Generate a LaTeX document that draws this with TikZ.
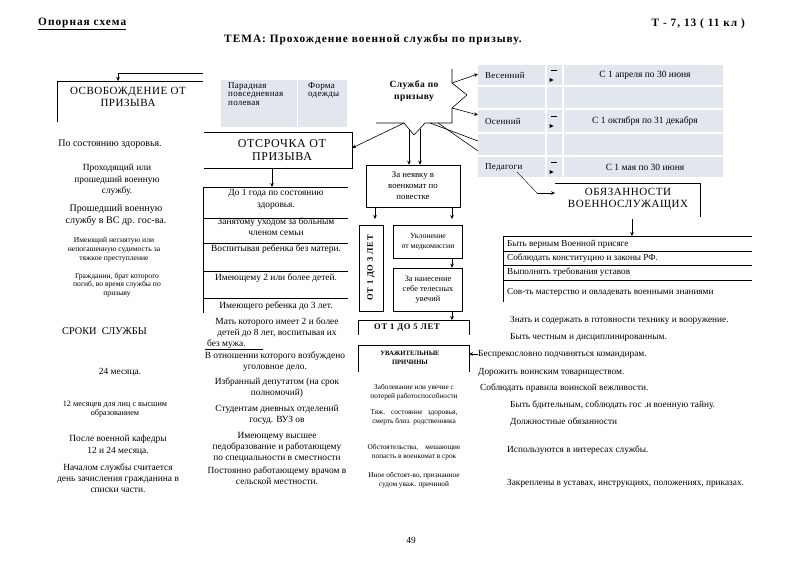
\documentclass[tikz,border=0pt]{standalone}
\usepackage{fontspec}
\setmainfont{Liberation Serif}
\newfontfamily\lsA[LetterSpace=5]{Liberation Serif}
\newfontfamily\lsB[LetterSpace=9]{Liberation Serif}
\newfontfamily\lsC[LetterSpace=3]{Liberation Serif}
\usetikzlibrary{arrows.meta}
\definecolor{tbl}{RGB}{225,230,239}
\tikzset{
  ln/.style={line width=0.6pt},
  arr/.style={-{Stealth[length=4pt,width=3.6pt]}, line width=0.6pt},
  thinl/.style={line width=0.4pt},
  hd/.style={font=\lsB\fontsize{11.3}{12}\selectfont\bfseries, inner sep=0},
  capt/.style={font=\lsA\fontsize{11}{12.5}\selectfont, align=center, inner sep=0},
  txt/.style={font=\fontsize{9.4}{11.3}\selectfont, align=center, inner sep=0},
  sm/.style={font=\fontsize{7.3}{9}\selectfont, align=center, inner sep=0},
  lt/.style={font=\fontsize{9.3}{11}\selectfont, anchor=west, inner sep=0},
  tb/.style={font=\lsC\fontsize{9}{8.7}\selectfont, anchor=west, align=left, inner sep=0},
  bx/.style={draw, line width=0.6pt, inner sep=0},
  bcap/.style={font=\lsB\fontsize{8.5}{9.5}\selectfont\bfseries, align=center, inner sep=0},
}
\begin{document}
\begin{tikzpicture}[x=1pt,y=-1pt]
\useasboundingbox (0,0) rectangle (800,565);
\fill[white] (0,0) rectangle (800,565);

% ---------- header
\node[hd, anchor=west] (opor) at (38,24) {\underline{Опорная схема}};
\node[hd, anchor=east] (tnum) at (745,24) {Т - 7, 13 ( 11 кл )};
\node[hd] (tema) at (373,40) {ТЕМА: Прохождение военной службы по призыву.};

% ---------- ОСВОБОЖДЕНИЕ
\coordinate (osvTL) at (57,81);
\coordinate (osvTR) at (203,81);
\coordinate (osvBL) at (57,122);
\coordinate (osvIn) at (118,81);
\coordinate (topR) at (203,73);
\coordinate (topA) at (118,73);
\draw[ln] (osvBL) -- (osvTL) -- (osvTR);
\draw[arr] (topR) -- (topA) -- (osvIn);
\node[capt] (osv) at (128,97) {ОСВОБОЖДЕНИЕ ОТ\\ПРИЗЫВА};

% ---------- Форма одежды
\node[fill=tbl, minimum width=126pt, minimum height=47pt, anchor=north west, inner sep=0] (forma) at (221,80) {};
\draw[white, line width=1pt] (297,80) -- (297,127);
\node[tb, anchor=north west] (formaL) at (228,82) {Парадная\\повседневная\\полевая};
\node[tb, anchor=north west] (formaR) at (308,82) {Форма\\одежды};

% ---------- ОТСРОЧКА
\coordinate (otTL) at (204,132);
\coordinate (otTR) at (352,132);
\coordinate (otBR) at (352,168);
\coordinate (otBL) at (204,168);
\coordinate (otIn) at (352,148);
\coordinate (otOut) at (272,168);
\draw[ln] (otTL) -- (otTR) -- (otBR) -- (otBL);
\node[capt, font=\lsA\fontsize{12}{13}\selectfont] (otsr) at (282,150) {ОТСРОЧКА ОТ\\ПРИЗЫВА};

% ---------- left column
\node[txt, font=\fontsize{10}{12}\selectfont] (l1) at (110,144) {По состоянию здоровья.};
\node[txt] (l2) at (117,180) {Проходящий или\\прошедший военную\\службу.};
\node[txt, font=\fontsize{10}{12}\selectfont] (l3) at (116,215) {Прошедший военную\\службу в ВС др. гос-ва.};
\node[sm, font=\fontsize{7.6}{8.8}\selectfont] (l4) at (114,250) {Имеющий неснятую или\\непогашенную судимость за\\тяжкое преступление};
\node[sm, font=\fontsize{7.6}{8.8}\selectfont] (l5) at (117,285) {Гражданин, брат которого\\погиб, во время службы по\\призыву};
\node[txt, anchor=west, font=\fontsize{10.3}{11}\selectfont] (srok) at (62,331) {СРОКИ \ СЛУЖБЫ};
\node[txt] (s1) at (120,372) {24 месяца.};
\node[sm, font=\fontsize{8.2}{9}\selectfont] (s2) at (115,409) {12 месяцев для лиц с высшим\\образованием};
\node[txt] (s3) at (118,445) {После военной кафедры\\12 и 24 месяца.};
\node[txt] (s4) at (118,478) {Началом службы считается\\день зачисления гражданина в\\списки части.};

% ---------- отсрочка list
\coordinate (lsTop) at (272,187);
\draw[arr] (otOut) -- (lsTop);
\draw[ln] (203,313) -- (203,187) -- (348,187);
\draw[ln] (203,218) -- (348,218);
\draw[ln] (203,243) -- (348,243);
\draw[ln] (203,271) -- (348,271);
\draw[ln] (203,298) -- (348,298);
\node[txt] (m1) at (276,199.5) {До 1 года по состоянию\\здоровья.};
\node[txt] (m2) at (276,227) {Занятому уходом за больным\\членом семьи};
\node[txt] (m3) at (276,249) {Воспитывая ребенка без матери.};
\node[txt] (m4) at (276,278) {Имеющему 2 или более детей.};
\node[txt] (m5) at (276,306) {Имеющего ребенка до 3 лет.};
\node[txt] (m6) at (277,327.5) {Мать которого имеет 2 и более\\детей до 8 лет, воспитывая их};
\node[txt, anchor=west] (m6b) at (207,344) {без мужа.};
\draw[ln] (205,349) -- (263,349);
\node[txt] (m7) at (275,361.5) {В отношении которого возбуждено\\уголовное дело.};
\node[txt] (m8) at (277,387.5) {Избранный депутатом (на срок\\полномочий)};
\node[txt] (m9) at (277,415) {Студентам дневных отделений\\госуд. ВУЗ ов};
\node[txt] (m10) at (277,447.5) {Имеющему высшее\\педобразование и работающему\\по специальности в сместности};
\node[txt] (m11) at (277,476) {Постоянно работающему врачом в\\сельской местности.};

% ---------- Служба по призыву
\node[font=\lsA\fontsize{9.5}{12}\selectfont\bfseries, align=center, inner sep=0] (sluzhba) at (414,91) {Служба по\\призыву};
\coordinate (zA) at (452,69);
\coordinate (zB) at (452,83);
\coordinate (zC) at (467,95);
\coordinate (zD) at (452,108);
\coordinate (zE) at (452,123);
\coordinate (vR) at (425,123);
\coordinate (vB) at (414,135);
\coordinate (vL) at (404,123);
\coordinate (zL) at (376,123);
\draw[ln] (zA) -- (zB) -- (zC) -- (zD) -- (zE) -- (vR) -- (vB) -- (vL) -- (zL);
\coordinate (a1s) at (409,129);
\coordinate (a2s) at (420,129);
\coordinate (d1s) at (430,123);
\coordinate (d2s) at (438,123);
\coordinate (d1e) at (478,141);
\coordinate (d2e) at (478,151);
\draw[ln] (d1s) -- (d1e);
\draw[ln] (d2s) -- (d2e);
\draw[arr] (vL) -- (otIn);

% ---------- season table
\fill[tbl] (478,65) rectangle (723,177);
\foreach \yy in {86,109,133,156} \draw[white, line width=1.2pt] (478,\yy) -- (723,\yy);
\draw[white, line width=1.2pt] (546,65) -- (546,177);
\draw[white, line width=1.2pt] (563,65) -- (563,177);
\node[tb] (ves) at (485,75) {Весенний};
\node[tb] (os) at (485,121) {Осенний};
\node[tb] (ped) at (485,167) {Педагоги};
\node[txt, font=\fontsize{9.5}{10}\selectfont] (vesD) at (645,75) {С 1 апреля по 30 июня};
\node[txt, font=\fontsize{9.5}{10}\selectfont] (osD) at (645,121) {С 1 октября по 31 декабря};
\node[txt, font=\fontsize{9.5}{10}\selectfont] (pedD) at (645,167) {С 1 мая по 30 июня};
\foreach \yy in {75,121,167} {
  \draw[line width=0.6pt] (551,\yy-5) -- (557,\yy-5);
  \fill (549.5,\yy+3) -- (553.5,\yy+5) -- (549.5,\yy+7) -- cycle;
}
\coordinate (vesIn) at (478,74);
\coordinate (osIn) at (478,115);
\draw[arr] (zB) -- (vesIn);
\draw[arr] (zD) -- (osIn);

% ---------- За неявку and the middle boxes
\node[bx, minimum width=94pt, minimum height=42pt] (neyav) at (413,186) {};
\node[txt, font=\fontsize{8.8}{11}\selectfont] (neyavT) at (413,186) {За неявку в\\военкомат по\\повестке};
\draw[arr] (a1s) -- (a1s |- neyav.north);
\draw[arr] (a2s) -- (a2s |- neyav.north);

\node[bx, minimum width=24pt, minimum height=86pt] (ot13) at (371,268) {};
\node[bcap, rotate=90] (ot13T) at (371,268) {ОТ 1 ДО 3 ЛЕТ};
\node[bx, minimum width=69pt, minimum height=33pt] (ukl) at (428,241.5) {};
\node[txt, font=\fontsize{7.8}{9.5}\selectfont] (uklT) at (428,241.5) {Уклонение\\от медкомиссии};
\node[bx, minimum width=69pt, minimum height=43pt] (nan) at (428,289.5) {};
\node[txt, font=\fontsize{8.3}{10}\selectfont] (nanT) at (428,289.5) {За нанесение\\себе телесных\\увечий};
\coordinate (ny1) at (375,207);
\coordinate (ny2) at (452,207);
\draw[arr] (ny1) -- (375,219);
\draw[arr] (ny2) -- (452,219);
\draw[arr] (ukl.south -| ny2) -- (nan.north -| ny2);

% ОТ 1 ДО 5 ЛЕТ
\coordinate (o5BL) at (358,335);
\coordinate (o5TL) at (358,320);
\coordinate (o5TR) at (469,320);
\coordinate (o5BR) at (469,335);
\draw[ln] (o5BL) -- (o5TL) -- (o5TR) -- (o5BR);
\node[bcap] (o5T) at (407,328) {ОТ 1 ДО 5 ЛЕТ};
\draw[arr] (nan.south -| ny2) -- (ny2 |- o5TR);

% УВАЖИТЕЛЬНЫЕ ПРИЧИНЫ
\coordinate (uBL) at (358,372);
\coordinate (uTL) at (358,345);
\coordinate (uTR) at (469,345);
\coordinate (uBR) at (469,372);
\coordinate (uIn) at (469,354);
\draw[ln] (uBL) -- (uTL) -- (uTR) -- (uBR);
\node[align=center, inner sep=0, font=\fontsize{6.6}{9.5}\selectfont\bfseries] (uT) at (410,358) {УВАЖИТЕЛЬНЫЕ\\ПРИЧИНЫ};
\node[sm] (u1) at (414,392.5) {Заболевание или увечие с\\потерей работоспособности};
\node[sm] (u2) at (414,417) {Тяж. \ \ состояние \ \ здоровья,\\смерть близ. родственника};
\node[sm] (u3) at (414,452) {Обстоятельства, \ \ \ мешающие\\попасть в военкомат в срок};
\node[sm] (u4) at (414,480) {Иное обстоят-во, признанное\\судом уваж. причиной};

% ---------- ОБЯЗАННОСТИ
\coordinate (obTL) at (555,183);
\coordinate (obTR) at (700,183);
\coordinate (obBR) at (700,217);
\coordinate (obIn) at (555,193);
\coordinate (obOut) at (632,219);
\coordinate (pedA) at (517,172);
\coordinate (pedB) at (537,193);
\draw[ln] (obTL) -- (obTR) -- (obBR);
\node[capt] (ob) at (628,199) {ОБЯЗАННОСТИ\\ВОЕННОСЛУЖАЩИХ};
\draw[thinl] (pedA) -- (pedB);
\draw[arr] (pedB) -- (obIn);
\coordinate (dlTop) at (632,236);
\draw[arr] (obOut) -- (dlTop);
\draw[ln] (503,302) -- (503,236) -- (752,236);
\draw[ln] (503,251) -- (752,251);
\draw[ln] (503,265) -- (752,265);
\draw[ln] (503,280) -- (752,280);
\node[lt, font=\fontsize{9.2}{10}\selectfont] (d1) at (507,244) {Быть верным Военной присяге};
\node[lt, font=\fontsize{9.2}{10}\selectfont] (d2) at (507,258) {Соблюдать конституцию и законы РФ.};
\node[lt, font=\fontsize{9.2}{10}\selectfont] (d3) at (507,272) {Выполнять требования уставов};
\node[lt, font=\fontsize{9.2}{10}\selectfont] (d4) at (507,292) {Сов-ть мастерство и овладевать военными знаниями};

\node[lt] (r1) at (510,320) {Знать и содержать в готовности технику и вооружение.};
\node[lt] (r2) at (510,337) {Быть честным и дисциплинированным.};
\node[lt] (r3) at (478,354) {Беспрекословно подчиняться командирам.};
\draw[arr] (r3.west) -- (uIn);
\node[lt] (r4) at (478,372) {Дорожить воинским товариществом.};
\node[lt] (r5) at (480,388) {Соблюдать правила воинской вежливости.};
\node[lt] (r6) at (510,405) {Быть бдительным, соблюдать гос .и военную тайну.};
\node[lt] (r7) at (510,422) {Должностные обязанности};
\node[lt] (r8) at (507,450) {Используются в интересах службы.};
\node[lt] (r9) at (507,483) {Закреплены в уставах, инструкциях, положениях, приказах.};

\node[txt] (page) at (411,540) {49};
\end{tikzpicture}
\end{document}
